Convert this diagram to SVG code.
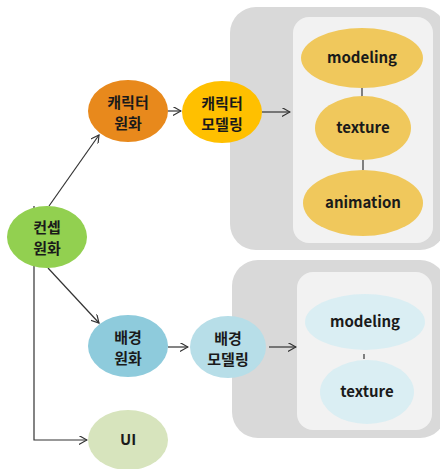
<svg xmlns="http://www.w3.org/2000/svg" width="440" height="469" viewBox="0 0 440 469">
<style>
text{font-family:"Noto Sans CJK KR","Noto Sans",sans-serif;font-weight:bold;font-size:15px;fill:#1a1a1a;text-anchor:middle}
.en{font-size:15px}
.c{fill:none;stroke:#333;stroke-width:1.2}
.outer{fill:#d9d9d9}
.inner{fill:#f2f2f2}
</style>
<defs>
<marker id="a" viewBox="0 0 10 10" refX="9" refY="5" markerWidth="9" markerHeight="9" orient="auto" markerUnits="userSpaceOnUse"><path d="M0,0 L9,5 L0,10" fill="none" stroke="#333" stroke-width="1.3"/></marker>
</defs>
<rect class="outer" x="230" y="7" width="216" height="243" rx="26"/>
<rect class="inner" x="293" y="17" width="140" height="226" rx="16"/>
<rect class="outer" x="232" y="260" width="214" height="178" rx="26"/>
<rect class="inner" x="297" y="272" width="135" height="158" rx="16"/>
<g id="connectors">
<line class="c" x1="49" y1="206" x2="99" y2="135" marker-end="url(#a)"/>
<line class="c" x1="168" y1="111" x2="181" y2="111" marker-end="url(#a)"/>
<line class="c" x1="262" y1="112" x2="290" y2="112" marker-end="url(#a)"/>
<line class="c" x1="362" y1="88" x2="362" y2="97"/>
<line class="c" x1="363" y1="160" x2="363" y2="170"/>
<line class="c" x1="48" y1="268" x2="99" y2="323" marker-end="url(#a)"/>
<line class="c" x1="168" y1="347" x2="188" y2="347" marker-end="url(#a)"/>
<line class="c" x1="269" y1="347" x2="296" y2="347" marker-end="url(#a)"/>
<line class="c" x1="364" y1="354" x2="364" y2="359"/>
<polyline class="c" points="34,206 34,440 87,440" marker-end="url(#a)"/>
</g>
<g id="concept"><ellipse cx="47" cy="237" rx="40" ry="31" fill="#92d050"/><text x="47" y="233">컨셉</text><text x="47" y="254">원화</text></g>
<g id="char-art"><ellipse cx="128" cy="111" rx="40" ry="31" fill="#e8891c"/><text x="128" y="108">캐릭터</text><text x="128" y="129">원화</text></g>
<g id="char-model"><ellipse cx="222" cy="112" rx="40" ry="31" fill="#ffc000"/><text x="222" y="109">캐릭터</text><text x="222" y="130">모델링</text></g>
<g id="c-modeling"><ellipse cx="362" cy="58" rx="61" ry="30" fill="#f0c85c"/><text class="en" x="362" y="63">modeling</text></g>
<g id="c-texture"><ellipse cx="363" cy="128" rx="48" ry="32" fill="#f0c85c"/><text class="en" x="363" y="133">texture</text></g>
<g id="c-animation"><ellipse cx="363" cy="203" rx="60" ry="33" fill="#f0c85c"/><text class="en" x="363" y="208">animation</text></g>
<g id="bg-art"><ellipse cx="128" cy="346" rx="40" ry="31" fill="#8ecbdc"/><text x="128" y="343">배경</text><text x="128" y="364">원화</text></g>
<g id="bg-model"><ellipse cx="228" cy="347" rx="38" ry="31" fill="#b7dee8"/><text x="228" y="344">배경</text><text x="228" y="365">모델링</text></g>
<g id="b-modeling"><ellipse cx="365" cy="322" rx="60" ry="28" fill="#daeef3"/><text class="en" x="365" y="327">modeling</text></g>
<g id="b-texture"><ellipse cx="367" cy="392" rx="47" ry="32" fill="#daeef3"/><text class="en" x="367" y="397">texture</text></g>
<g id="ui"><ellipse cx="128" cy="440" rx="40" ry="30" fill="#d7e4bd"/><text x="128" y="445">UI</text></g>
</svg>
